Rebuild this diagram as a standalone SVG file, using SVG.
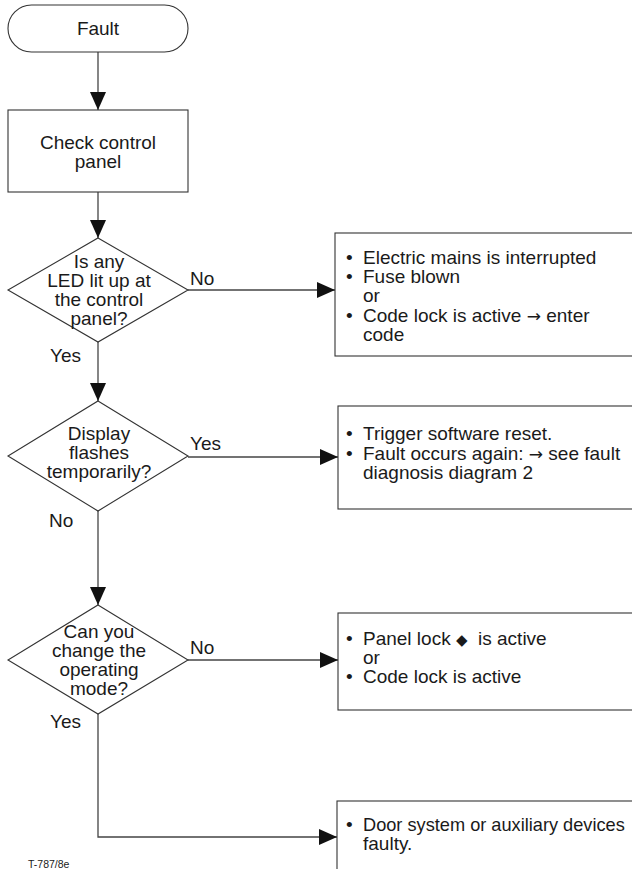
<svg xmlns="http://www.w3.org/2000/svg" width="632" height="869" viewBox="0 0 632 869">
<style>
.shape{fill:#fff;stroke:#333;stroke-width:1.1}
.conn{fill:none;stroke:#444;stroke-width:1.3}
text{font-family:"Liberation Sans",Arial,Helvetica,sans-serif;font-size:19px;fill:#1a1a1a}
.c{text-anchor:middle}
.small{font-size:10.5px}
.sym{font-family:"DejaVu Sans",sans-serif;font-size:17px}
.dia{font-family:"DejaVu Sans",sans-serif;font-size:15px}
.fit{font-size:18.2px}
</style>
<defs>
<marker id="arr" markerUnits="userSpaceOnUse" markerWidth="18" markerHeight="16" refX="18" refY="8" orient="auto">
<path d="M0,0 L18,8 L0,16 z" fill="#111"/>
</marker>
</defs>
<g id="connectors">
<path class="conn" d="M98,52 V110" marker-end="url(#arr)"/>
<path class="conn" d="M98,192 V238" marker-end="url(#arr)"/>
<path class="conn" d="M188,290 H335" marker-end="url(#arr)"/>
<path class="conn" d="M98,342 V401" marker-end="url(#arr)"/>
<path class="conn" d="M188,457 H338" marker-end="url(#arr)"/>
<path class="conn" d="M98,511 V605" marker-end="url(#arr)"/>
<path class="conn" d="M188,660 H338" marker-end="url(#arr)"/>
<path class="conn" d="M98,714 V837 H337" marker-end="url(#arr)"/>
<text x="190" y="285">No</text>
<text x="50" y="362">Yes</text>
<text x="190" y="450">Yes</text>
<text x="49" y="527">No</text>
<text x="190" y="654">No</text>
<text x="50" y="728">Yes</text>
</g>
<g id="fault">
<rect class="shape" x="8" y="5" width="180" height="47" rx="23.5" ry="23.5"/>
<text class="c" x="98" y="35">Fault</text>
</g>
<g id="check">
<rect class="shape" x="8" y="110" width="180" height="82"/>
<text class="c" x="98" y="149">Check control</text>
<text class="c" x="98" y="168">panel</text>
</g>
<g id="q1">
<polygon class="shape" points="98,238 188,290 98,342 8,290"/>
<text class="c" x="99" y="268">Is any</text>
<text class="c" x="99" y="287">LED lit up at</text>
<text class="c" x="99" y="306">the control</text>
<text class="c" x="99" y="325">panel?</text>
</g>
<g id="a1">
<rect class="shape" x="335" y="233" width="310" height="123"/>
<text x="346" y="264">•</text><text x="363" y="264">Electric mains is interrupted</text>
<text x="346" y="283">•</text><text x="363" y="283">Fuse blown</text>
<text x="363" y="302">or</text>
<text x="346" y="322">•</text><text x="363" y="322">Code lock is active <tspan class="sym">→</tspan> enter</text>
<text x="363" y="341">code</text>
</g>
<g id="q2">
<polygon class="shape" points="98,401 188,456 98,511 8,456"/>
<text class="c" x="99" y="440">Display</text>
<text class="c" x="99" y="459">flashes</text>
<text class="c" x="99" y="478">temporarily?</text>
</g>
<g id="a2">
<rect class="shape" x="338" y="406" width="310" height="103"/>
<text x="346" y="440">•</text><text x="363" y="440">Trigger software reset.</text>
<text x="346" y="460">•</text><text x="363" y="460">Fault occurs again: <tspan class="sym">→</tspan> see fault</text>
<text x="363" y="479">diagnosis diagram 2</text>
</g>
<g id="q3">
<polygon class="shape" points="98,605 188,660 98,714 8,660"/>
<text class="c" x="99" y="638">Can you</text>
<text class="c" x="99" y="657">change the</text>
<text class="c" x="99" y="676">operating</text>
<text class="c" x="99" y="695">mode?</text>
</g>
<g id="a3">
<rect class="shape" x="338" y="613" width="310" height="97"/>
<text x="346" y="645">•</text><text x="363" y="645" xml:space="preserve">Panel lock <tspan class="dia">◆</tspan>  is active</text>
<text x="363" y="664">or</text>
<text x="346" y="683">•</text><text x="363" y="683">Code lock is active</text>
</g>
<g id="a4">
<rect class="shape" x="337" y="801" width="310" height="90"/>
<text x="346" y="831">•</text><text class="fit" x="363" y="831">Door system or auxiliary devices</text>
<text x="363" y="850">faulty.</text>
</g>
<text class="small" x="28" y="868">T-787/8e</text>
</svg>
